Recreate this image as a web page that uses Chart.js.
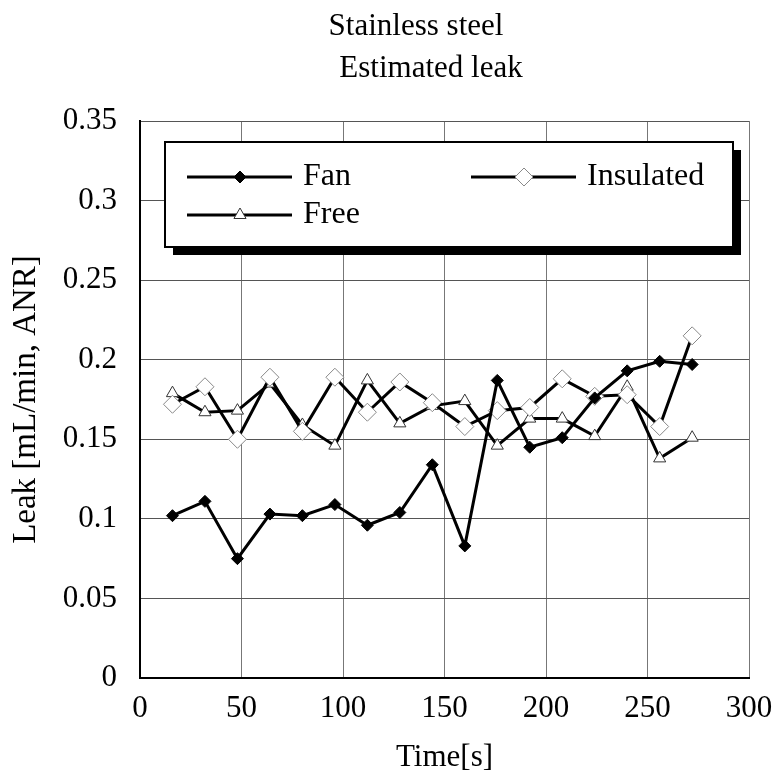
<!DOCTYPE html>
<html>
<head>
<meta charset="utf-8">
<script src="https://cdn.jsdelivr.net/npm/chart.js@4"></script>
<style>
  html, body { margin: 0; padding: 0; background: #fff; }
  #wrap { width: 776px; height: 775px; }
</style>
</head>
<body>
<div id="wrap"><canvas id="grafico" width="776" height="775"></canvas></div>
<script>
const tempos = [16, 32, 48, 64, 80, 96, 112, 128, 144, 160, 176, 192, 208, 224, 240, 256, 272];
const fan = [0.102, 0.111, 0.075, 0.103, 0.102, 0.109, 0.096, 0.104, 0.134, 0.083, 0.187, 0.145, 0.151, 0.176, 0.193, 0.199, 0.197];
const insulated = [0.172, 0.183, 0.150, 0.189, 0.155, 0.189, 0.167, 0.186, 0.173, 0.158, 0.168, 0.170, 0.188, 0.177, 0.178, 0.158, 0.215];
const free = [0.179, 0.167, 0.168, 0.185, 0.159, 0.146, 0.187, 0.160, 0.171, 0.174, 0.146, 0.163, 0.163, 0.152, 0.183, 0.138, 0.151];

const titulos = ["Stainless steel", "Estimated leak"];
const xTitulo = "Time[s]";
const yTitulo = "Leak [mL/min, ANR]";

const fonte = "'Liberation Serif', 'Times New Roman', serif";

function pontos(valores) {
    return tempos.map((t, i) => ({ x: t, y: valores[i] }));
}

const series = [
    { label: "Fan", data: pontos(fan), pointStyle: "rectRot", pointRadius: 6,
      pointBackgroundColor: "#000", pointBorderColor: "#000" },
    { label: "Insulated", data: pontos(insulated), pointStyle: "rectRot", pointRadius: 9,
      pointBackgroundColor: "#fff", pointBorderColor: "#888" },
    { label: "Free", data: pontos(free), pointStyle: "triangle", pointRadius: 7,
      pointBackgroundColor: "#fff", pointBorderColor: "#333" }
];

// titulo em duas linhas, desenhado a mao
const tituloPlugin = {
    id: "tituloPlugin",
    afterDraw(chart) {
        const ctx = chart.ctx;
        ctx.save();
        ctx.fillStyle = "#000";
        ctx.font = "31px " + fonte;
        ctx.textAlign = "center";
        ctx.textBaseline = "middle";
        ctx.fillText(titulos[0], 416, 27);
        ctx.fillText(titulos[1], 431, 69);
        ctx.restore();
    }
};

// caixa de legenda com sombra dentro da area do grafico
const legendaPlugin = {
    id: "legendaPlugin",
    afterDatasetsDraw(chart) {
        const ctx = chart.ctx;
        const bx = 165, by = 142, bw = 568, bh = 105, sombra = 8;
        ctx.save();
        ctx.fillStyle = "#000";
        ctx.fillRect(bx + sombra, by + sombra, bw, bh);
        ctx.fillStyle = "#fff";
        ctx.fillRect(bx, by, bw, bh);
        ctx.lineWidth = 2;
        ctx.strokeStyle = "#000";
        ctx.strokeRect(bx, by, bw, bh);

        const itens = [
            { ds: chart.data.datasets[0], x: 187, y: 177 },
            { ds: chart.data.datasets[1], x: 471, y: 177 },
            { ds: chart.data.datasets[2], x: 187, y: 215 }
        ];
        itens.forEach(item => {
            ctx.strokeStyle = "#000";
            ctx.lineWidth = 3;
            ctx.beginPath();
            ctx.moveTo(item.x, item.y);
            ctx.lineTo(item.x + 105, item.y);
            ctx.stroke();

            ctx.fillStyle = item.ds.pointBackgroundColor;
            ctx.strokeStyle = item.ds.pointBorderColor;
            ctx.lineWidth = 1;
            Chart.helpers.drawPoint(ctx, {
                pointStyle: item.ds.pointStyle,
                radius: item.ds.pointRadius,
                borderWidth: 1,
                rotation: 0
            }, item.x + 53, item.y);

            ctx.fillStyle = "#000";
            ctx.font = "32px " + fonte;
            ctx.textAlign = "left";
            ctx.textBaseline = "middle";
            ctx.fillText(item.ds.label, item.x + 116, item.y);
        });
        ctx.restore();
    }
};

const ctx = document.getElementById("grafico").getContext("2d");
new Chart(ctx, {
    type: "scatter",
    data: {
        datasets: series.map(s => ({
            label: s.label,
            data: s.data,
            showLine: true,
            borderColor: "#000",
            borderWidth: 3,
            pointStyle: s.pointStyle,
            pointRadius: s.pointRadius,
            pointBackgroundColor: s.pointBackgroundColor,
            pointBorderColor: s.pointBorderColor,
            pointBorderWidth: 1
        }))
    },
    options: {
        responsive: false,
        animation: false,
        devicePixelRatio: 1,
        layout: { padding: { top: 121, right: 27, left: 0, bottom: 0 } },
        plugins: {
            legend: { display: false },
            title: { display: false },
            tooltip: { enabled: false }
        },
        scales: {
            x: {
                type: "linear",
                min: 0,
                max: 300,
                ticks: {
                    stepSize: 50,
                    color: "#000",
                    padding: 12,
                    maxRotation: 0,
                    font: { family: fonte, size: 31 }
                },
                grid: { color: "#777", lineWidth: 1, drawTicks: false },
                border: { color: "#000", width: 2 },
                title: {
                    display: true,
                    text: xTitulo,
                    color: "#000",
                    padding: { top: 0, bottom: 0 },
                    font: { family: fonte, size: 31, lineHeight: 1.1 }
                },
                afterFit(scale) {
                    scale.height = 97;
                    scale.paddingLeft = 0;
                    scale.paddingRight = 0;
                }
            },
            y: {
                min: 0,
                max: 0.35,
                ticks: {
                    stepSize: 0.05,
                    color: "#000",
                    padding: 23,
                    font: { family: fonte, size: 31 },
                    callback: v => String(Math.round(v * 100) / 100)
                },
                grid: { color: "#555", lineWidth: 1, drawTicks: false },
                border: { color: "#000", width: 2 },
                title: {
                    display: true,
                    text: yTitulo,
                    color: "#000",
                    padding: { top: 7, bottom: 0 },
                    font: { family: fonte, size: 33 }
                },
                afterFit(scale) {
                    scale.width = 140;
                    scale.paddingTop = 0;
                    scale.paddingBottom = 0;
                }
            }
        }
    },
    plugins: [tituloPlugin, legendaPlugin]
});
</script>
</body>
</html>
